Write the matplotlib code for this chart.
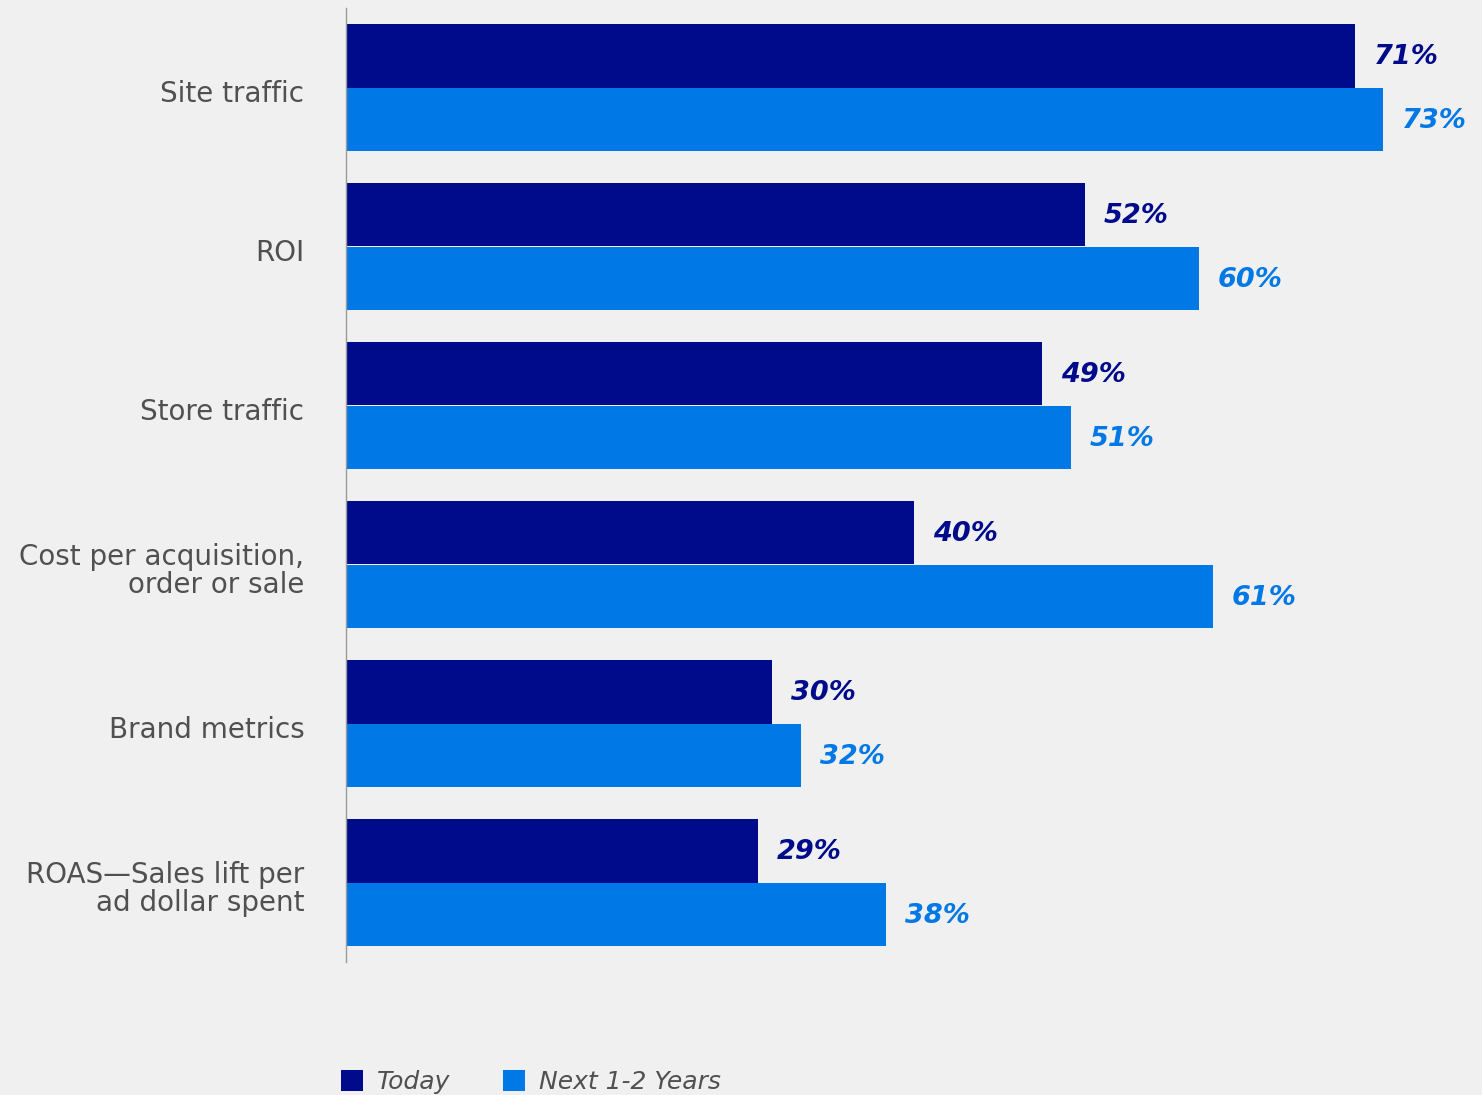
import matplotlib
matplotlib.use("Agg")
import matplotlib.pyplot as plt
from matplotlib.patches import Patch
import numpy as np

categories = [
    "Site traffic",
    "ROI",
    "Store traffic",
    "Cost per acquisition,\norder or sale",
    "Brand metrics",
    "ROAS\u2014Sales lift per\nad dollar spent",
]
today = [71, 52, 49, 40, 30, 29]
next_years = [73, 60, 51, 61, 32, 38]
series_names = ["Today", "Next 1-2 Years"]

BG = "#f0f0f0"
DARK = "#000b8c"
BLUE = "#0078e6"
TEXT = "#505050"
FONT = "DejaVu Sans"

W, H = 1482, 1095
fig = plt.figure(figsize=(W / 100, H / 100), dpi=100)
fig.patch.set_facecolor(BG)

left_px, top_px, bottom_px = 346, 8, 962
ax = fig.add_axes([left_px / W, 1 - bottom_px / H, (W - left_px) / W, (bottom_px - top_px) / H])
ax.set_facecolor(BG)

px_per_pct = 14.21
ax.set_xlim(0, (W - left_px) / px_per_pct)
ax.set_ylim(len(categories) - 0.5, -0.5)

y = np.arange(len(categories))
h = 0.4
ax.barh(y - h / 2, today, height=h, color=DARK, edgecolor="none")
ax.barh(y + h / 2, next_years, height=h, color=BLUE, edgecolor="none")

offset = 19 / px_per_pct
lbl = dict(ha="left", va="center", fontsize=19.5, fontweight="bold",
           fontstyle="italic", family=FONT)
for yi, v in zip(y, today):
    ax.text(v + offset, yi - h / 2 + 0.01, f"{v}%", color=DARK, **lbl)
for yi, v in zip(y, next_years):
    ax.text(v + offset, yi + h / 2 + 0.01, f"{v}%", color=BLUE, **lbl)

ax.set_yticks(y + 0.02)
ax.set_yticklabels(categories, fontsize=20, color=TEXT, family=FONT, linespacing=1.0)
ax.tick_params(axis="y", length=0, pad=30)
ax.set_xticks([])
for s in ["top", "right", "bottom"]:
    ax.spines[s].set_visible(False)
ax.spines["left"].set_color("#9a9a9a")
ax.spines["left"].set_linewidth(1.0)

handles = [Patch(facecolor=DARK, edgecolor="none"), Patch(facecolor=BLUE, edgecolor="none")]
leg = fig.legend(handles, series_names, loc="lower left",
                 bbox_to_anchor=(341 / W, 1 / H), ncol=2, frameon=False,
                 handlelength=0.88, handleheight=0.88, handletextpad=0.56,
                 columnspacing=2.1, borderaxespad=0, borderpad=0,
                 prop={"family": FONT, "style": "italic", "size": 18})
for t in leg.get_texts():
    t.set_color(TEXT)

fig.savefig("out.png", dpi=100, facecolor=BG)
